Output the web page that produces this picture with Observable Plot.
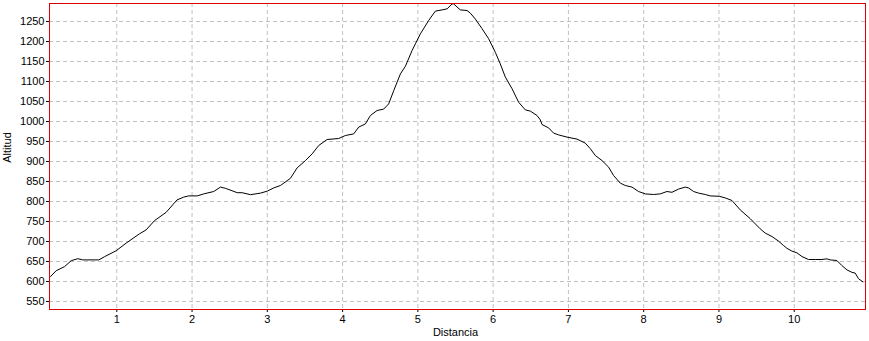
<!DOCTYPE html>
<html><head><meta charset="utf-8">
<script src="https://cdn.jsdelivr.net/npm/d3@7"></script>
<script src="https://cdn.jsdelivr.net/npm/@observablehq/plot@0.6"></script>
<style>body{margin:0;background:#fff}</style>
</head><body><div id="chart"></div>
<script>
const distance = [0.11, 0.12, 0.195, 0.305, 0.394, 0.482, 0.548, 0.761, 0.837, 0.992, 1.125, 1.30, 1.39, 1.50, 1.656, 1.80, 1.89, 1.956, 2.068, 2.155, 2.288, 2.377, 2.443, 2.53, 2.60, 2.665, 2.777, 2.91, 3.0, 3.085, 3.174, 3.263, 3.307, 3.396, 3.507, 3.595, 3.683, 3.794, 3.948, 4.037, 4.147, 4.214, 4.303, 4.369, 4.458, 4.546, 4.612, 4.679, 4.768, 4.834, 4.857, 4.923, 4.967, 5.033, 5.143, 5.232, 5.321, 5.388, 5.454, 5.475, 5.564, 5.653, 5.697, 5.764, 5.853, 5.94, 6.029, 6.095, 6.162, 6.251, 6.339, 6.405, 6.428, 6.494, 6.583, 6.627, 6.649, 6.737, 6.803, 6.870, 6.981, 7.114, 7.224, 7.291, 7.357, 7.446, 7.534, 7.600, 7.689, 7.756, 7.845, 7.932, 8.021, 8.131, 8.220, 8.309, 8.376, 8.463, 8.552, 8.596, 8.663, 8.729, 8.818, 8.884, 9.004, 9.084, 9.173, 9.283, 9.416, 9.548, 9.615, 9.704, 9.791, 9.858, 9.903, 9.969, 10.036, 10.102, 10.19, 10.279, 10.368, 10.434, 10.478, 10.567, 10.633, 10.70, 10.766, 10.81, 10.854, 10.912];
const altitude = [611, 612.5, 627, 637, 652, 657, 654, 654, 662, 677, 696, 719, 729, 752, 773, 804, 811, 814, 814, 819, 825, 836, 833, 827, 822, 822, 817, 821, 826, 834, 840, 852, 858, 884, 902.5, 919, 940, 955, 957.5, 965, 969, 986, 994, 1015, 1027.5, 1031, 1044, 1077, 1119, 1138, 1148, 1177.5, 1194, 1219, 1252.5, 1276, 1279, 1281.5, 1294, 1294, 1279, 1277.5, 1271, 1256, 1232, 1207, 1173, 1144, 1111, 1082, 1048, 1034, 1029, 1026, 1015, 1004, 992.5, 984, 971, 966.5, 961, 956, 946, 932, 915, 902.5, 886, 865, 846, 840, 836, 825, 819, 817.5, 819, 825, 823, 831, 836, 834, 825, 821, 817.5, 814, 813, 809, 802.5, 779, 757, 731.7, 721, 712.5, 701, 690, 683, 676, 671.7, 662.5, 655, 655, 655, 656.7, 654, 652.5, 640, 629, 623, 621, 607, 599];
const xTicks = [1, 2, 3, 4, 5, 6, 7, 8, 9, 10];
const yTicks = [550, 600, 650, 700, 750, 800, 850, 900, 950, 1000, 1050, 1100, 1150, 1200, 1250];
const xLabel = "Distancia";
const yLabel = "Altitud";

const data = distance.map((d, i) => ({d, a: altitude[i]}));

const chart = Plot.plot({
  width: 869,
  height: 341,
  marginTop: 3,
  marginBottom: 32,
  marginLeft: 49,
  marginRight: 4,
  style: {fontFamily: "'Liberation Sans', Arial, sans-serif", fontSize: "11px", color: "#000", background: "#fff"},
  x: {domain: [0.106, 10.947], ticks: xTicks, tickFormat: d => String(d), label: null, tickSize: 3, tickPadding: 3},
  y: {domain: [530, 1295], ticks: yTicks, tickFormat: d => String(d), label: null, tickSize: 3, tickPadding: 2},
  marks: [
    Plot.ruleX(xTicks, {x: d => d, stroke: "#c0c0c0", strokeDasharray: "4,3"}),
    Plot.ruleY(yTicks, {y: d => d, stroke: "#c0c0c0", strokeDasharray: "4,3"}),
    Plot.line(data, {x: "d", y: "a", stroke: "#000", strokeWidth: 1}),
    Plot.frame({stroke: "#e00000"}),
    Plot.text([yLabel], {text: d => d, frameAnchor: "left", dx: -42, dy: -9, rotate: -90, textAnchor: "middle", lineAnchor: "middle"}),
    Plot.text([xLabel], {text: d => d, frameAnchor: "bottom", dx: -2, dy: 23, textAnchor: "middle", lineAnchor: "middle"})
  ]
});
document.getElementById("chart").appendChild(chart);
</script>
</body></html>
